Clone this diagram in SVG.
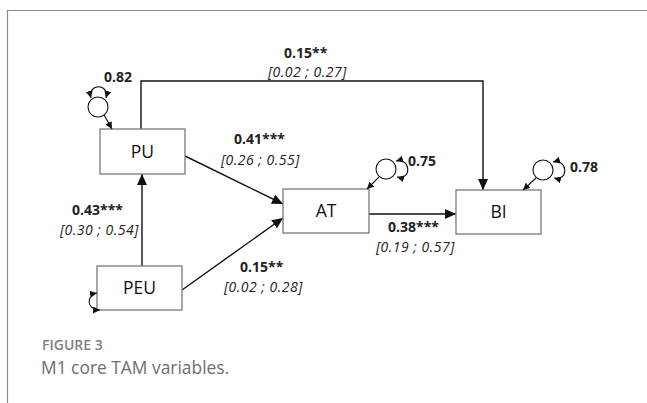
<svg xmlns="http://www.w3.org/2000/svg" width="647" height="403" viewBox="0 0 647 403">
<style>
.frame{fill:none;stroke:#8a8a8a;stroke-width:1.2}
.box{fill:#fff;stroke:#7a7a7a;stroke-width:1.3}
.lbl{font-family:"Open Sans",sans-serif;font-size:17.5px;fill:#111;text-anchor:middle}
.coef{font-family:"Open Sans",sans-serif;font-size:14px;font-weight:bold;fill:#222}
.ci{font-family:"Open Sans",sans-serif;font-size:14px;font-style:italic;fill:#222;letter-spacing:0.5px}
.edge{fill:none;stroke:#111;stroke-width:1.4}
.loop{fill:none;stroke:#111;stroke-width:1.1}
.circ{fill:#fff;stroke:#111;stroke-width:1.1}
.cap1{font-family:"Open Sans",sans-serif;font-size:14px;font-weight:600;fill:#7f7f7f}
.cap2{font-family:"Open Sans",sans-serif;font-size:17.4px;fill:#6e6e6e}
</style>
<defs>
<marker id="ah" markerUnits="userSpaceOnUse" markerWidth="12" markerHeight="10" refX="11" refY="5" orient="auto"><path d="M0,0 L11,5 L0,10 z" fill="#111"/></marker>
<marker id="sh" markerUnits="userSpaceOnUse" markerWidth="8" markerHeight="7" refX="7" refY="3.5" orient="auto-start-reverse"><path d="M0,0 L7,3.5 L0,7 z" fill="#111"/></marker>
</defs>
<rect width="647" height="403" fill="#fff"/>
<path class="frame" d="M7.5,403 V10.5 H647"/>
<g id="connectors">
<path class="edge" d="M142,266 V174" marker-end="url(#ah)"/>
<path class="edge" d="M141,129 V81 H483 V190" marker-end="url(#ah)"/>
<path class="edge" d="M185,156 L283,204" marker-end="url(#ah)"/>
<path class="edge" d="M182,290 L283,218" marker-end="url(#ah)"/>
<path class="edge" d="M369,214 H456" marker-end="url(#ah)"/>
</g>
<g id="PU">
<rect class="box" x="100" y="129" width="85" height="45"/>
<text class="lbl" x="142.5" y="158">PU</text>
<circle class="circ" cx="98" cy="107" r="10"/>
<path class="loop" d="M91,98 C87,83 110,83 106,98" marker-start="url(#sh)" marker-end="url(#sh)"/>
<path class="loop" d="M104,115 L112,129" marker-end="url(#sh)"/>
<text class="coef" x="104" y="82">0.82</text>
</g>
<g id="PEU">
<rect class="box" x="97" y="266" width="85" height="44"/>
<text class="lbl" x="139.5" y="294">PEU</text>
<path class="loop" d="M97,293 C86,295 86,310 100,310" marker-start="url(#sh)" marker-end="url(#sh)"/>
</g>
<g id="AT">
<rect class="box" x="283" y="189" width="86" height="44"/>
<text class="lbl" x="326" y="217">AT</text>
<circle class="circ" cx="386" cy="169" r="10"/>
<path class="loop" d="M396,161 C411,157 412,181 397,177" marker-start="url(#sh)" marker-end="url(#sh)"/>
<path class="loop" d="M379,177 L367,189" marker-end="url(#sh)"/>
<text class="coef" x="408" y="166">0.75</text>
</g>
<g id="BI">
<rect class="box" x="456" y="190" width="85" height="44"/>
<text class="lbl" x="498.5" y="218">BI</text>
<circle class="circ" cx="543" cy="170" r="10"/>
<path class="loop" d="M553,162 C568,158 569,182 554,178" marker-start="url(#sh)" marker-end="url(#sh)"/>
<path class="loop" d="M536,178 L523,190" marker-end="url(#sh)"/>
<text class="coef" x="570" y="172">0.78</text>
</g>
<g id="labels">
<text class="coef" x="284" y="58">0.15**</text>
<text class="ci" x="268" y="77">[0.02 ; 0.27]</text>
<text class="coef" x="234" y="144">0.41***</text>
<text class="ci" x="221" y="165">[0.26 ; 0.55]</text>
<text class="coef" x="72" y="215">0.43***</text>
<text class="ci" x="60" y="235">[0.30 ; 0.54]</text>
<text class="coef" x="240" y="272">0.15**</text>
<text class="ci" x="224" y="292">[0.02 ; 0.28]</text>
<text class="coef" x="388" y="232">0.38***</text>
<text class="ci" x="376" y="252">[0.19 ; 0.57]</text>
</g>
<text class="cap1" x="42" y="350">FIGURE 3</text>
<text class="cap2" x="41" y="374">M1 core TAM variables.</text>
</svg>
